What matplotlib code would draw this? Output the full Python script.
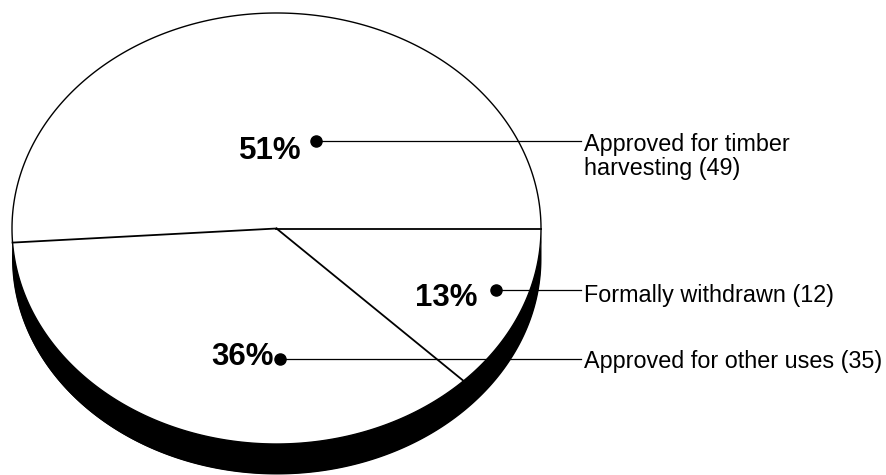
import numpy as np
import matplotlib
matplotlib.use("Agg")
import matplotlib.pyplot as plt

# counts per slice, going counter-clockwise from the right edge
labels = ["Approved for timber\nharvesting (49)", "Approved for other uses (35)", "Formally withdrawn (12)"]
counts = [49, 35, 12]
pct_labels = ["51%", "36%", "13%"]

plt.rcParams['font.family'] = ['Liberation Sans', 'DejaVu Sans']

fig = plt.figure(figsize=(8.86, 4.75), dpi=100)
ax = fig.add_axes([0, 0, 1, 1])
ax.set_xlim(0, 886)
ax.set_ylim(475, 0)
ax.axis("off")

# pie geometry in pixels
cx, cy = 276.5, 228.5
rx, ry = 264.5, 215.5
depth = 30

t = np.linspace(0, 2 * np.pi, 721)
ex = cx + rx * np.cos(t)
ey = cy - ry * np.sin(t)

# black rim under the pie, then the white top face
ax.fill_between(ex[360:], ey[360:], ey[360:] + depth, color="black", lw=0, zorder=1)
ax.fill(ex, ey + depth, color="black", lw=0, zorder=1, clip_on=True)
ax.fill(ex, ey, facecolor="white", edgecolor="black", lw=1, zorder=2)

# slice edges from the counts
cuts = np.cumsum([0] + counts[:-1]) / sum(counts) * 2 * np.pi
for a in cuts:
    ax.plot([cx, cx + rx * np.cos(a)], [cy, cy - ry * np.sin(a)], color="black", lw=1.3, zorder=3)

# percent text, dot, leader line, label (text placed by baseline)
dots = [(316, 141), (280, 358.5), (496, 289.5)]
line_end = [581, 581, 581]
pct_pos = [(302, 159), (274, 365), (478, 306)]
label_y = [175, 368, 302]
for i in range(3):
    ax.plot([dots[i][0], line_end[i]], [dots[i][1]] * 2, color="black", lw=0.9, zorder=4)
    ax.plot(dots[i][0], dots[i][1], "o", color="black", ms=8, zorder=5)
    ax.text(pct_pos[i][0], pct_pos[i][1], pct_labels[i], ha="right", va="baseline",
            fontsize=22.5, fontweight="bold", zorder=6)
    ax.text(584.5, label_y[i], labels[i], ha="left", va="baseline", fontsize=16.85, linespacing=1.08, zorder=6)

fig.savefig("out.png", dpi=100)
